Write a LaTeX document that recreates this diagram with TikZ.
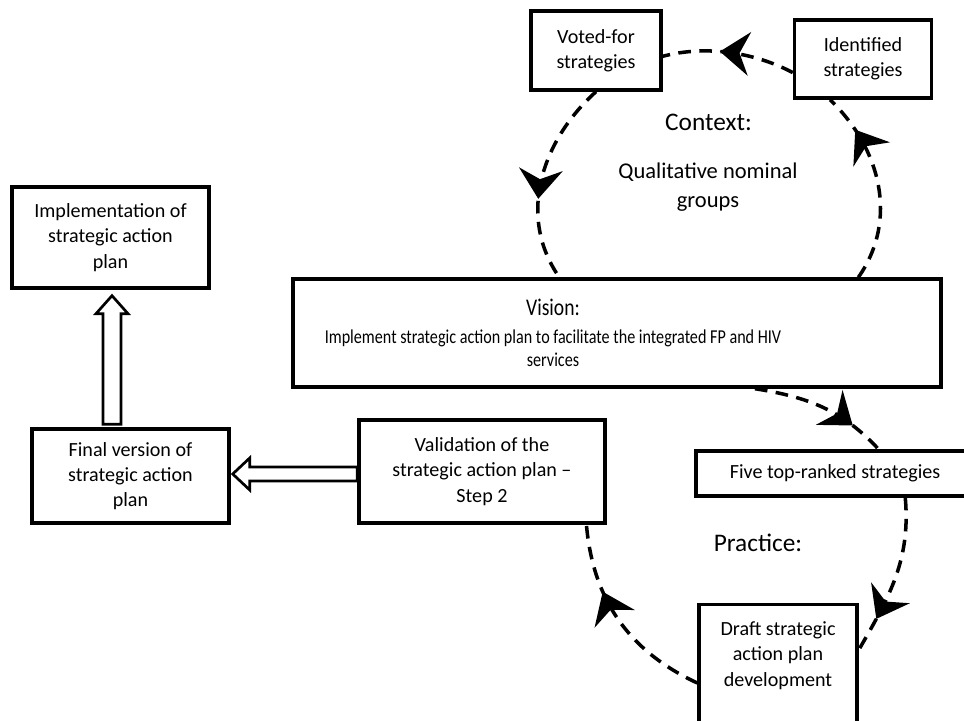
\documentclass[tikz,border=0pt]{standalone}
\usepackage{fontspec}
\setmainfont{Carlito}
\newfontfamily\visionfont[FakeStretch=0.82]{Carlito}
\usetikzlibrary{calc,arrows.meta,decorations.markings}

\begin{document}
\begin{tikzpicture}[%
x=0.025cm, y=0.025cm,
box/.style={draw, line width=2.4pt, fill=white, align=center, inner sep=0pt, font=\fontsize{14.3}{18}\selectfont},
cycleline/.style={line width=2.5pt, dash pattern=on 9pt off 6pt},
midtip/.style={postaction={decorate}, decoration={markings, mark=at position #1 with {\arrow{Stealth[length=21pt, width=31pt, inset=7pt]}}}},
hollowarrow/.style={draw, line width=1.9pt, fill=white, line join=miter},
]
\useasboundingbox (0,0) rectangle (964,721);
\clip (0,0) rectangle (964,721);
%% box;
\node[box, minimum width=3.25cm, minimum height=1.975cm] (voted) at (596,670.5) {Voted-for\\strategies};
%% box;
\node[box, minimum width=3.425cm, minimum height=1.95cm] (ident) at (863,662) {Identified\\strategies};
%% box;
\node[box, minimum width=16.2cm, minimum height=2.7cm] (vision) at (617,388) {};
\node[align=center, font=\visionfont\fontsize{14}{16.4}\selectfont] (visiontext) at (553,388) {{\fontsize{17}{20}\selectfont Vision:}\\[3pt]Implement strategic action plan to facilitate the integrated FP and HIV\\services};
%% box;
\node[box, minimum width=4.925cm, minimum height=2.525cm] (impl) at (110.5,483.5) {Implementation of\\strategic action\\plan};
%% box;
\node[box, minimum width=4.925cm, minimum height=2.35cm] (final) at (130.5,245) {Final version of\\strategic action\\plan};
%% box;
\node[box, minimum width=6.15cm, minimum height=2.575cm] (valid) at (482,249.5) {Validation of the\\strategic action plan --\\Step 2};
%% box;
\node[box, minimum width=6.95cm, minimum height=1.125cm] (five) at (835,247.5) {Five top-ranked strategies};
%% box;
\node[box, anchor=north, minimum width=3.95cm, inner ysep=12pt, text depth=80pt] (draft) at (778,118) {Draft strategic\\action plan\\development};
%% label;
\node[font=\fontsize{18}{22}\selectfont] (context) at (708.5,599) {Context:};
%% label;
\node[align=center, font=\fontsize{16}{20.6}\selectfont] (qualitative) at (708,533.5) {Qualitative nominal\\groups};
%% label;
\node[font=\fontsize{18}{22}\selectfont] (practice) at (758,178) {Practice:};
%% arc;
\draw[cycleline, midtip=0.8] (vision.13) to[out=55, in=-44] (ident.231);
%% arc;
\draw[cycleline, midtip=0.57] (ident.191) to[out=152, in=15, looseness=0.86] (voted.355);
%% arc;
\draw[cycleline, midtip=0.6] (voted.south) to[out=222, in=125] (vision.136);
%% arc;
\draw[cycleline, midtip=0.75] (vision.338) to[out=-9, in=133] (five.29);
%% arc;
\draw[cycleline, midtip=0.78] (five.341) to[out=-85, in=60] ($(draft.north east)+(0,-47)$);
%% arc;
\draw[cycleline, midtip=0.66] ($(draft.north west)+(0,-80)$) to[out=155, in=-85] (valid.333);
%% hollow arrow;
\coordinate (uptip) at ($(impl.south)+(1.5,-6)$);
\path (uptip |- final.north) ++(0,3) coordinate (uptail);
\draw[hollowarrow] ($(uptail)+(-9,0)$) -- ($(uptip)+(-9,-18)$) -- ($(uptip)+(-16,-18)$) -- (uptip) -- ($(uptip)+(16,-18)$) -- ($(uptip)+(9,-18)$) -- ($(uptail)+(9,0)$) -- cycle;
%% hollow arrow;
\coordinate (lefttip) at ($(final.east)+(2,2)$);
\path (valid.west |- lefttip) coordinate (lefttail);
\draw[hollowarrow] ($(lefttail)+(0,7)$) -- ($(lefttip)+(17,7)$) -- ($(lefttip)+(17,16)$) -- (lefttip) -- ($(lefttip)+(17,-16)$) -- ($(lefttip)+(17,-7)$) -- ($(lefttail)+(0,-7)$) -- cycle;
\end{tikzpicture}
\end{document}
